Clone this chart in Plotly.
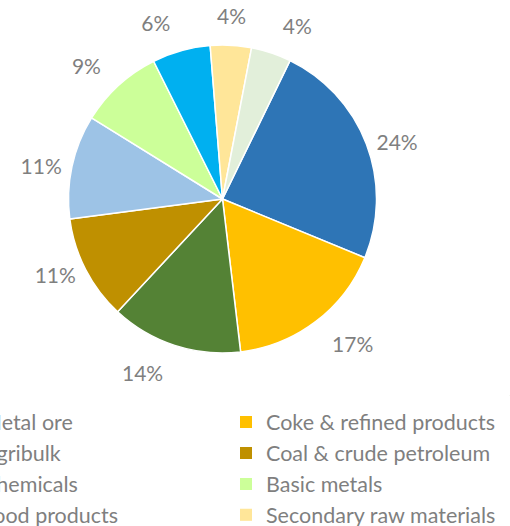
import plotly.graph_objects as go

labels = ["Metal ore", "Coke & refined products", "Agribulk", "Coal & crude petroleum",
          "Chemicals", "Basic metals", "Food products", "Secondary raw materials", "Other"]
values = [24.0, 16.9, 13.8, 11.0, 10.9, 8.8, 6.1, 4.3, 4.2]
colors = ["#2E75B6", "#FFC000", "#548235", "#BF9000", "#9DC3E6",
          "#CCFF99", "#00B0F0", "#FFE699", "#E2EFDA"]

W, H = 510, 526
MB = 130                      # bottom margin holding the legend
PH = H - MB                   # plot-area height
cx, cy, r = 222.5, 199, 154   # pie centre / radius in px
grey = "#7F7F7F"
FONT = "Lato"
n = len(values)


def dom(rad, dx=0.0):
    return dict(x=[(cx + dx - rad) / W, (cx + dx + rad) / W],
                y=[1 - (cy + rad) / PH, 1 - (cy - rad) / PH])


common = dict(labels=labels, values=values, sort=False, direction="clockwise", rotation=26)

fig = go.Figure()
# the pie itself
fig.add_trace(go.Pie(
    **common,
    marker=dict(colors=colors, line=dict(color="white", width=1.5)),
    textinfo="none", domain=dom(r), showlegend=False,
))


# percentage labels: transparent copies of the pie, used only to place the texts
def only(idx):
    return ["outside" if i in idx else "none" for i in range(n)]


rings = [                       # (slices shown, ring radius, horizontal shift)
    (only({0, 3, 4}), 158, 0.0),
    (only({1, 2, 5, 6}), 171, 0.0),
    (only({8}), 171, 0.0),
    (only({7}), 171, -21.0),
]
for pos, rl, dx in rings:
    fig.add_trace(go.Pie(
        **common,
        marker=dict(colors=["rgba(0,0,0,0)"] * n, line=dict(width=0)),
        textposition=pos, texttemplate="%{percent:.0%}",
        textfont=dict(color=grey, size=21, family=FONT),
        domain=dom(rl, dx), showlegend=False, hoverinfo="skip",
    ))

# legend: two columns (even / odd slices), each its own legend
for k, lg in ((0, "legend"), (1, "legend2")):
    idx = list(range(k, n, 2))
    fig.add_trace(go.Pie(
        labels=[labels[i] for i in idx], values=[values[i] for i in idx], sort=False,
        marker=dict(colors=[colors[i] for i in idx]),
        textinfo="none", hoverinfo="skip", showlegend=True, legend=lg,
        domain=dict(x=[0.9995, 1.0], y=[0.0, 0.0005]),
    ))

leg = dict(orientation="v", xanchor="left", yanchor="top", y=-(401.5 - PH) / PH,
           maxheight=300, font=dict(color=grey, size=21.5, family=FONT),
           bgcolor="rgba(0,0,0,0)")
fig.update_layout(
    width=W, height=H, margin=dict(l=0, r=0, t=0, b=MB, autoexpand=False),
    paper_bgcolor="white", plot_bgcolor="white",
    showlegend=True,
    legend=dict(leg, x=-58 / W),
    legend2=dict(leg, x=226 / W),
    font=dict(family=FONT),
)
fig.write_html("out.html")
